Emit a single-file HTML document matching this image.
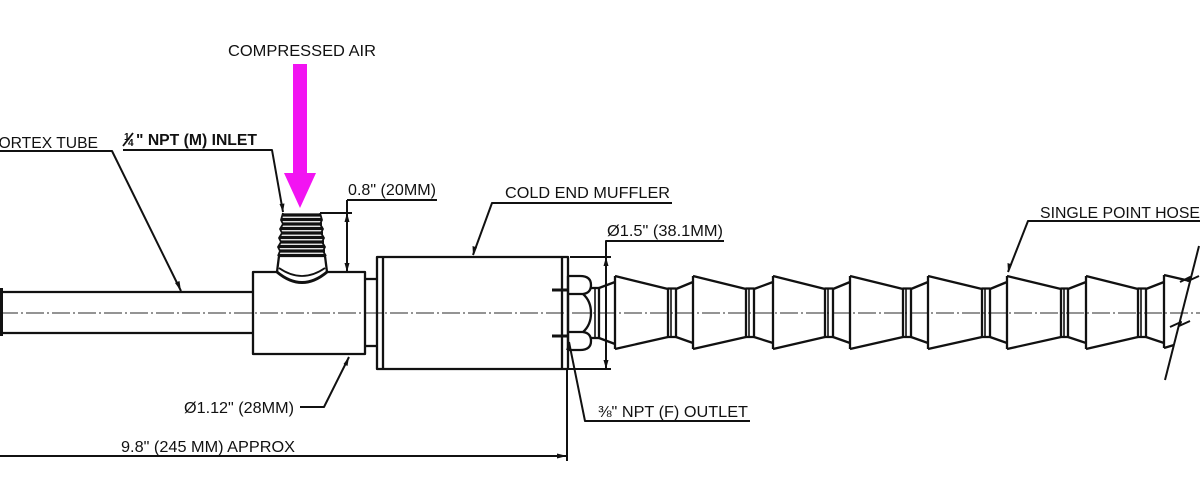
<!DOCTYPE html>
<html>
<head>
<meta charset="utf-8">
<style>
html,body{margin:0;padding:0;background:#fff;}
svg{display:block;}
text{font-family:"Liberation Sans",Arial,sans-serif;fill:#111;}
</style>
</head>
<body>
<svg width="1200" height="496" viewBox="0 0 1200 496" xmlns="http://www.w3.org/2000/svg">
<rect width="1200" height="496" fill="#fff"/>

<!-- centerline -->
<line x1="0" y1="313" x2="1200" y2="313" stroke="#555" stroke-width="1.2" stroke-dasharray="18 3 2 3"/>

<g stroke="#111" stroke-width="2.3" fill="none" stroke-linejoin="round">
  <!-- vortex tube -->
  <line x1="0" y1="292" x2="253" y2="292"/>
  <line x1="0" y1="333" x2="253" y2="333"/>
  <line x1="1.5" y1="288" x2="1.5" y2="336" stroke-width="3"/>

  <!-- tee body -->
  <path d="M277,272 L253,272 L253,354 L365,354 L365,272 L327,272"/>
  <!-- saddle -->
  <path d="M277,272 Q302,293 327,272" stroke-width="2.8"/>
  <path d="M279,268 Q302,284 325,268" stroke-width="1.8"/>
  <!-- neck -->
  <line x1="279" y1="256" x2="277" y2="272"/>
  <line x1="325" y1="256" x2="327" y2="272"/>

  <!-- threads -->
  <g stroke-width="3.2">
    <line x1="283" y1="215" x2="321" y2="215"/>
    <line x1="282" y1="219.5" x2="322" y2="219.5"/>
    <line x1="282" y1="224" x2="322" y2="224"/>
    <line x1="281" y1="228.5" x2="323" y2="228.5"/>
    <line x1="281" y1="233" x2="323" y2="233"/>
    <line x1="280" y1="237.5" x2="324" y2="237.5"/>
    <line x1="280" y1="242" x2="324" y2="242"/>
    <line x1="279" y1="246.5" x2="325" y2="246.5"/>
    <line x1="279" y1="251" x2="325" y2="251"/>
    <line x1="279" y1="255.5" x2="325" y2="255.5"/>
  </g>
  <path d="M283,213 L281,220 L283,224 L280,229 L282,233 L279,238 L281,242 L278,247 L280,251 L278,256" stroke-width="1.8"/>
  <path d="M320,213 L322,220 L320,224 L323,229 L321,233 L324,238 L322,242 L325,247 L323,251 L326,256" stroke-width="1.8"/>

  <!-- step connector -->
  <line x1="365" y1="279" x2="377" y2="279"/>
  <line x1="365" y1="346" x2="377" y2="346"/>

  <!-- muffler -->
  <rect x="377" y="257" width="191" height="112"/>
  <line x1="383" y1="257" x2="383" y2="369"/>
  <line x1="562" y1="257" x2="562" y2="369"/>

  <!-- tick marks on flange -->
  <line x1="552" y1="290" x2="567" y2="290" stroke-width="3"/>
  <line x1="552" y1="336" x2="567" y2="336" stroke-width="3"/>

  <!-- hex nut -->
  <path d="M568,276 L580,276 Q591,276 591,285 Q591,293 583,294 L568,294"/>
  <path d="M568,332 L583,332 Q591,325 591,313 Q591,301 583,294"/>
  <path d="M568,350 L580,350 Q591,350 591,341 Q591,333 583,332"/>
  <line x1="568" y1="276" x2="568" y2="350"/>

  <!-- fitting -->
  <line x1="591" y1="288" x2="599" y2="288"/>
  <line x1="591" y1="338" x2="599" y2="338"/>
  <line x1="595" y1="289" x2="595" y2="337" stroke-width="1.6"/>
  <line x1="599" y1="288" x2="599" y2="338"/>
  <line x1="599" y1="288" x2="615" y2="282"/>
  <line x1="599" y1="338" x2="615" y2="344"/>

  <!-- seg 1: 615 -->
  <path d="M615,276 L615,349 M615,276 L668,289 M615,349 L668,337"/>
  <rect x="668" y="288.5" width="8" height="48.5"/>
  <line x1="671" y1="289" x2="671" y2="337" stroke-width="1.6"/>
  <path d="M676,289 L693,282 M676,337 L693,343"/>
  <!-- seg 2: 693 -->
  <path d="M693,276 L693,349 M693,276 L746,289 M693,349 L746,337"/>
  <rect x="746" y="288.5" width="8" height="48.5"/>
  <line x1="749" y1="289" x2="749" y2="337" stroke-width="1.6"/>
  <path d="M754,289 L773,282 M754,337 L773,343"/>
  <!-- seg 3: 773 -->
  <path d="M773,276 L773,349 M773,276 L825,289 M773,349 L825,337"/>
  <rect x="825" y="288.5" width="8" height="48.5"/>
  <line x1="828" y1="289" x2="828" y2="337" stroke-width="1.6"/>
  <path d="M833,289 L850,282 M833,337 L850,343"/>
  <!-- seg 4: 850 -->
  <path d="M850,276 L850,349 M850,276 L903,289 M850,349 L903,337"/>
  <rect x="903" y="288.5" width="8" height="48.5"/>
  <line x1="906" y1="289" x2="906" y2="337" stroke-width="1.6"/>
  <path d="M911,289 L928,282 M911,337 L928,343"/>
  <!-- seg 5: 928 -->
  <path d="M928,276 L928,349 M928,276 L982,289 M928,349 L982,337"/>
  <rect x="982" y="288.5" width="8" height="48.5"/>
  <line x1="985" y1="289" x2="985" y2="337" stroke-width="1.6"/>
  <path d="M990,289 L1007,282 M990,337 L1007,343"/>
  <!-- seg 6: 1007 -->
  <path d="M1007,276 L1007,349 M1007,276 L1061,289 M1007,349 L1061,337"/>
  <rect x="1061" y="288.5" width="7" height="48.5"/>
  <line x1="1064" y1="289" x2="1064" y2="337" stroke-width="1.6"/>
  <path d="M1068,289 L1086,282 M1068,337 L1086,343"/>
  <!-- seg 7: 1086 -->
  <path d="M1086,276 L1086,349 M1086,276 L1138,289 M1086,349 L1138,337"/>
  <rect x="1138" y="288.5" width="8" height="48.5"/>
  <line x1="1141" y1="289" x2="1141" y2="337" stroke-width="1.6"/>
  <path d="M1146,289 L1164,282 M1146,337 L1164,343"/>
  <!-- seg 8: 1164 (cut) -->
  <path d="M1164,275 L1164,348 M1164,275 L1190,281 M1164,348 L1174,345"/>

  <!-- break line -->
  <line x1="1199" y1="246" x2="1165" y2="380" stroke-width="2"/>
  <path d="M1180,282 L1190,277 L1188,281 L1199,276" stroke-width="2"/>
  <path d="M1170,327 L1181,322 L1179,326 L1190,321" stroke-width="2"/>

  <!-- leaders & dimensions -->
  <g stroke-width="2">
    <polyline points="0,151 112,151 181,291"/>
    <polyline points="123,150 272,150 283,212"/>
    <polyline points="347,200 437,200"/>
    <line x1="347" y1="200" x2="347" y2="272"/>
    <line x1="320" y1="213" x2="352" y2="213"/>
    <polyline points="672,203 492,203 473,255"/>
    <polyline points="724,241 606,241 606,369"/>
    <line x1="570" y1="257" x2="611" y2="257"/>
    <line x1="568" y1="369" x2="611" y2="369"/>
    <polyline points="750,421 585,421 569,342"/>
    <polyline points="300,407 324,407 349,357"/>
    <line x1="0" y1="456" x2="567" y2="456"/>
    <line x1="567" y1="369" x2="567" y2="461"/>
    <polyline points="1200,221 1028,221 1008,272"/>
  </g>
</g>

<!-- arrowheads -->
<g fill="#111" stroke="none">
  <polygon points="347,213 344.5,222 349.5,222"/>
  <polygon points="347,272 344.5,263 349.5,263"/>
  <polygon points="606,257 603.5,266 608.5,266"/>
  <polygon points="606,369 603.5,360 608.5,360"/>
  <polygon points="567,456 557,453.5 557,458.5"/>
  <polygon points="181,291 175,283 179.5,281"/>
  <polygon points="283,212 279.5,204 284.5,203.5"/>
  <polygon points="473,255 472.5,246 477,247.5"/>
  <polygon points="1008,272 1007.5,263 1012,264.5"/>
  <polygon points="569,342 566,350 571,349"/>
  <polygon points="349,357 343.5,364 347.5,366"/>
</g>

<!-- compressed air arrow -->
<polygon points="293,64 307,64 307,173 316,173 300,208 284,173 293,173" fill="#f214f2"/>

<!-- labels -->
<g font-size="16">
  <text x="228" y="56" textLength="148" lengthAdjust="spacingAndGlyphs">COMPRESSED AIR</text>
  <text x="-12" y="148" textLength="110" lengthAdjust="spacingAndGlyphs">VORTEX TUBE</text>
  <!-- 1/4 fraction stacked -->
  <text x="124" y="140" font-size="10" font-weight="bold">1</text>
  <line x1="123" y1="146" x2="133" y2="133" stroke="#111" stroke-width="1.8"/>
  <text x="128" y="146" font-size="10" font-weight="bold">4</text>
  <text x="136" y="145" textLength="121" lengthAdjust="spacingAndGlyphs" font-weight="bold">" NPT (M) INLET</text>
  <text x="348" y="195" textLength="88" lengthAdjust="spacingAndGlyphs">0.8" (20MM)</text>
  <text x="505" y="198" textLength="165" lengthAdjust="spacingAndGlyphs">COLD END MUFFLER</text>
  <text x="607" y="236" textLength="116" lengthAdjust="spacingAndGlyphs">Ø1.5" (38.1MM)</text>
  <text x="1040" y="218" textLength="160" lengthAdjust="spacingAndGlyphs">SINGLE POINT HOSE</text>
  <text x="598" y="417" textLength="150" lengthAdjust="spacingAndGlyphs">⅜" NPT (F) OUTLET</text>
  <text x="184" y="413" textLength="110" lengthAdjust="spacingAndGlyphs">Ø1.12" (28MM)</text>
  <text x="121" y="452" textLength="174" lengthAdjust="spacingAndGlyphs">9.8" (245 MM) APPROX</text>
</g>
</svg>
</body>
</html>
